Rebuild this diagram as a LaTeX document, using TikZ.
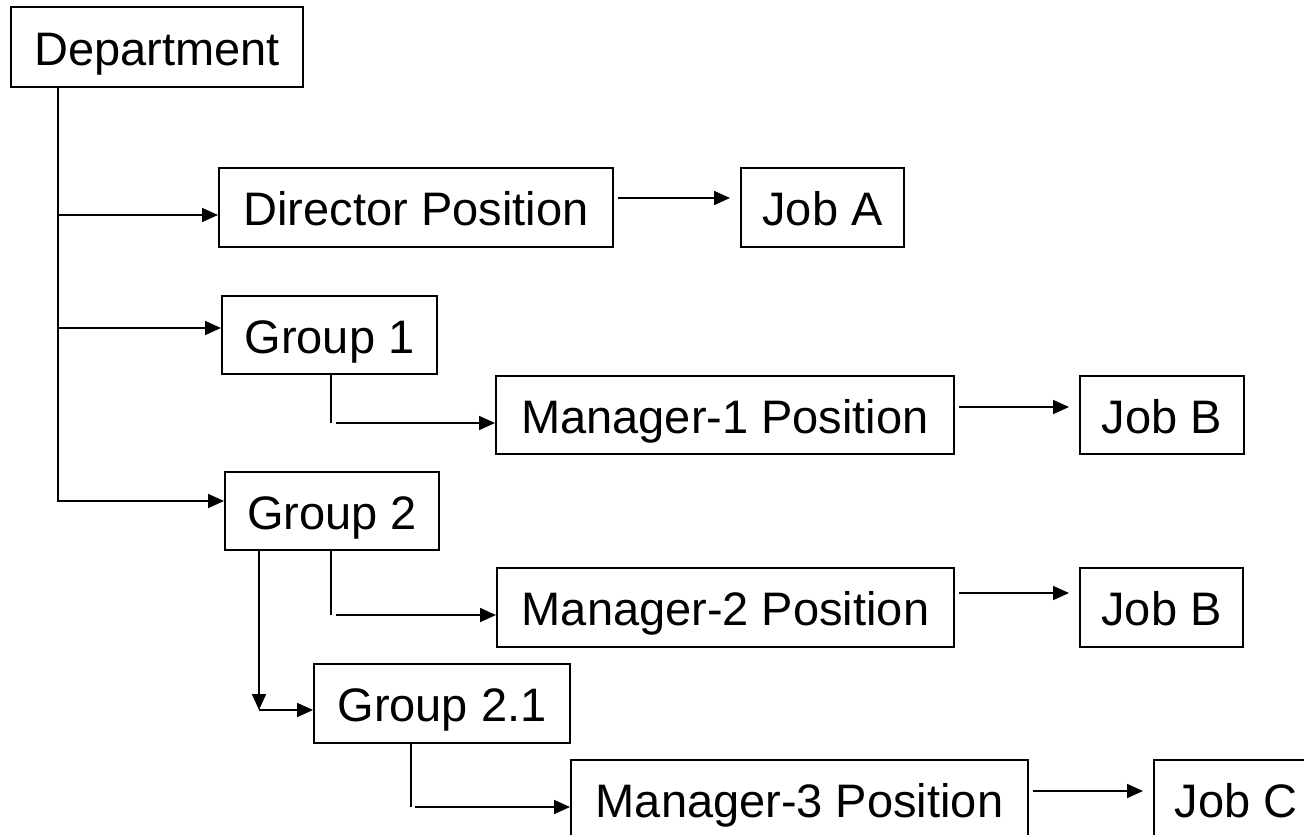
\documentclass[tikz,border=0pt]{standalone}
\usepackage{fontspec}
\setmainfont{Liberation Sans}
\usetikzlibrary{arrows.meta}

\tikzset{
  box/.style={draw, line width=2pt, rectangle, inner sep=0pt, anchor=north west,
              text height=36pt, text depth=0pt,
              font=\fontsize{47}{56}\selectfont},
  link/.style={line width=1.8pt},
  arr/.style={link, -{Triangle[length=16pt,width=14pt]}},
  gapped/.style={arr, shorten <=4pt, shorten >=10pt}
}

% place a box by its top-left corner and size
\newcommand{\boxat}[6]{%
  \node[box, minimum width=#4pt, minimum height=#5pt] (#1) at (#2,#3) {#6};}

\begin{document}
\begin{tikzpicture}[x=1pt,y=-1pt]
  \useasboundingbox (0,0) rectangle (1304,835);
  \clip (0,0) rectangle (1304,835);

  % boxes
  \boxat{dept}{10}{6}{292}{80}{Department}
  \boxat{dir}{218}{167}{394}{79}{Director Position}
  \boxat{joba}{740}{167}{163}{79}{Job A}
  \boxat{gone}{221}{295}{215}{78}{Group 1}
  \boxat{mone}{495}{375}{458}{78}{Manager-1 Position}
  \boxat{jobbone}{1079}{375}{164}{78}{Job B}
  \boxat{gtwo}{224}{471}{214}{78}{Group 2}
  \boxat{mtwo}{496}{567}{457}{79}{Manager-2 Position}
  \boxat{jobbtwo}{1079}{567}{163}{79}{Job B}
  \boxat{gtwoone}{313}{663}{256}{79}{Group 2.1}
  \boxat{mthree}{570}{759}{457}{79}{Manager-3 Position}
  \boxat{jobc}{1153}{759}{164}{79}{Job C}

  % branch points on the department trunk
  \coordinate (tdir) at (58,215);
  \coordinate (tone) at (58,328);
  \coordinate (ttwo) at (58,501);

  % department trunk and its branches
  \draw[arr] (dept.south -| ttwo) -- (ttwo) -- (gtwo.west |- ttwo);
  \draw[arr] (tdir) -- (dir.west |- tdir);
  \draw[arr] (tone) -- (gone.west |- tone);

  % position -> job links
  \coordinate (ya) at (0,198);
  \draw[gapped] (dir.east |- ya) -- (joba.west |- ya);
  \coordinate (yb) at (0,407);
  \draw[gapped] (mone.east |- yb) -- (jobbone.west |- yb);
  \coordinate (yc) at (0,593);
  \draw[gapped] (mtwo.east |- yc) -- (jobbtwo.west |- yc);
  \coordinate (yd) at (0,791);
  \draw[gapped] (mthree.east |- yd) -- (jobc.west |- yd);

  % group 1 -> manager-1
  \coordinate (gonea) at (331,423);
  \draw[link] (gone.south -| gonea) -- (gonea);
  \draw[arr, shorten <=5pt] (gonea) -- (mone.west |- gonea);

  % group 2 -> manager-2
  \coordinate (gtwoa) at (331,615);
  \draw[link] (gtwo.south -| gtwoa) -- (gtwoa);
  \draw[arr, shorten <=5pt] (gtwoa) -- (mtwo.west |- gtwoa);

  % group 2 -> group 2.1
  \coordinate (gtwob) at (259,710);
  \draw[arr] (gtwo.south -| gtwob) -- (gtwob);
  \draw[arr] (gtwob) -- (gtwoone.west |- gtwob);

  % group 2.1 -> manager-3
  \coordinate (gtwooa) at (411,807);
  \draw[link] (gtwoone.south -| gtwooa) -- (gtwooa);
  \draw[arr, shorten <=4pt] (gtwooa) -- (mthree.west |- gtwooa);
\end{tikzpicture}
\end{document}
